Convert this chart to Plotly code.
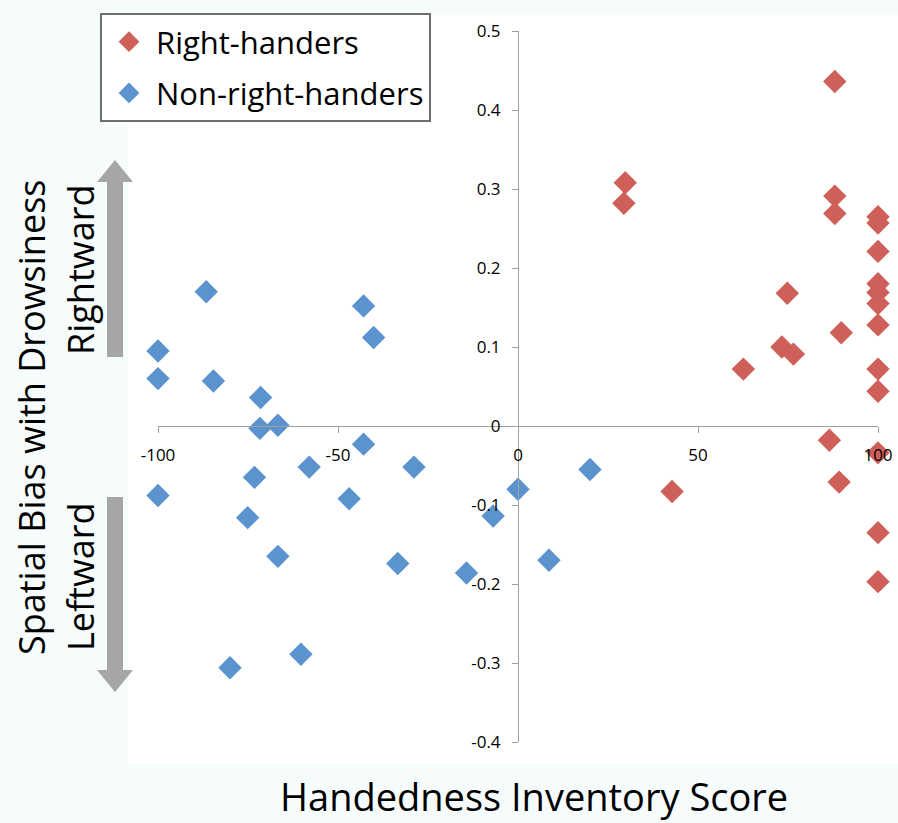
import plotly.graph_objects as go

# ---- data ----
right_x = [88, 29.8, 29.4, 88, 88, 100, 100, 100, 100, 100, 100, 100, 100, 100,
           74.8, 89.8, 73.3, 76.5, 62.6, 86.5, 100, 89.2, 42.8, 100, 100]
right_y = [0.436, 0.308, 0.282, 0.291, 0.269, 0.265, 0.257, 0.221, 0.180, 0.169, 0.155, 0.128, 0.072, 0.044,
           0.168, 0.118, 0.100, 0.091, 0.072, -0.018, -0.034, -0.071, -0.083, -0.135, -0.197]

left_x = [-100, -100, -86.6, -84.6, -71.5, -71.7, -66.7, -42.9, -40.1, -42.9,
          -58.0, -73.2, -100, -46.9, -28.9, -75.1, -66.7, -33.4, -14.3, -6.9,
          0, -80.0, -60.3, 8.6, 20]
left_y = [0.095, 0.060, 0.170, 0.057, 0.036, -0.003, 0.001, 0.152, 0.112, -0.023,
          -0.052, -0.065, -0.088, -0.092, -0.052, -0.116, -0.165, -0.174, -0.186, -0.114,
          -0.080, -0.306, -0.289, -0.170, -0.055]

x_ticks = [-100, -50, 0, 50, 100]
x_tick_text = ["-100", "-50", "0", "50", "100"]
y_ticks = [-0.4, -0.3, -0.2, -0.1, 0, 0.1, 0.2, 0.3, 0.4, 0.5]
y_tick_text = ["-0.4", "-0.3", "-0.2", "-0.1", "0", "0.1", "0.2", "0.3", "0.4", "0.5"]

RED = "#CF5F59"
BLUE = "#5B93CE"
FONT = "Open Sans"

W, H = 898, 823
ML, MR, MT, MB = 158, 20, 31, 81
PW, PH = W - ML - MR, H - MT - MB


def px(xp):
    return (xp - ML) / PW


def py(yp):
    return (H - MB - yp) / PH


fig = go.Figure()
fig.add_trace(go.Scatter(x=right_x, y=right_y, mode="markers", name="Right-handers",
                         legendgroup="a",
                         marker=dict(symbol="diamond", size=18, color=RED, line=dict(width=0)),
                         cliponaxis=False))
fig.add_trace(go.Scatter(x=left_x, y=left_y, mode="markers", name="Non-right-handers",
                         legendgroup="b",
                         marker=dict(symbol="diamond", size=18, color=BLUE, line=dict(width=0)),
                         cliponaxis=False))

y0_frac = (0 - y_ticks[0]) / (y_ticks[-1] - y_ticks[0])

fig.update_layout(
    width=W, height=H,
    margin=dict(l=ML, r=MR, t=MT, b=MB, autoexpand=False),
    paper_bgcolor="#F6FCFC",
    plot_bgcolor="rgba(0,0,0,0)",
    font=dict(family=FONT, color="black"),
    xaxis=dict(range=[-100, 100], anchor="free", position=y0_frac, automargin=False,
               tickvals=x_ticks, ticktext=x_tick_text, ticks="outside", ticklen=6,
               tickcolor="#A0A0A0", showline=True, linecolor="#A0A0A0", linewidth=1,
               showgrid=False, zeroline=False, ticklabelstandoff=8,
               tickfont=dict(size=17, family=FONT)),
    yaxis=dict(range=[-0.4, 0.5], anchor="free", position=0.5, automargin=False,
               tickvals=y_ticks, ticktext=y_tick_text, ticks="outside", ticklen=6,
               tickcolor="#A0A0A0", showline=True, linecolor="#A0A0A0", linewidth=1,
               showgrid=False, zeroline=False, ticklabelstandoff=8,
               tickfont=dict(size=17, family=FONT)),
    legend=dict(x=px(100), y=py(13), xanchor="left", yanchor="top",
                bgcolor="white", bordercolor="#6E6E6E", borderwidth=2,
                font=dict(size=31, family=FONT, color="black"),
                tracegroupgap=8, itemsizing="trace", itemwidth=44),
    showlegend=True,
)

# white chart area
fig.add_shape(type="rect", xref="paper", yref="paper",
              x0=px(128), x1=px(898), y0=py(765), y1=py(15),
              fillcolor="white", line=dict(width=0), layer="below")

# grey direction arrows (up and down)
def arrow_path(x_c, y_tail, y_tip):
    sw, hw, hh = 8, 18, 22
    d = -1 if y_tip < y_tail else 1
    yb = y_tip - d * hh
    pts = [(x_c - sw, y_tail), (x_c - sw, yb), (x_c - hw, yb), (x_c, y_tip),
           (x_c + hw, yb), (x_c + sw, yb), (x_c + sw, y_tail)]
    s = "M " + " L ".join(f"{px(a):.5f},{py(b):.5f}" for a, b in pts) + " Z"
    return s

for tail, tip in [(357, 160), (497, 692)]:
    fig.add_shape(type="path", xref="paper", yref="paper", path=arrow_path(115, tail, tip),
                  fillcolor="#A6A6A6", line=dict(width=0), layer="below")

fig.add_annotation(text="Handedness Inventory Score", xref="paper", yref="paper",
                   x=px(534), y=py(796), showarrow=False, xanchor="center", yanchor="middle",
                   font=dict(size=38, family=FONT, color="black"))
fig.add_annotation(text="Spatial Bias with Drowsiness", xref="paper", yref="paper",
                   x=px(31), y=py(418), showarrow=False, textangle=-90,
                   xanchor="center", yanchor="middle",
                   font=dict(size=36, family=FONT, color="black"))
fig.add_annotation(text="Rightward", xref="paper", yref="paper",
                   x=px(80), y=py(270), showarrow=False, textangle=-90,
                   xanchor="center", yanchor="middle",
                   font=dict(size=36, family=FONT, color="black"))
fig.add_annotation(text="Leftward", xref="paper", yref="paper",
                   x=px(80), y=py(577), showarrow=False, textangle=-90,
                   xanchor="center", yanchor="middle",
                   font=dict(size=36, family=FONT, color="black"))

fig.write_html("out.html", config={"displayModeBar": False},
               post_script="document.body.style.margin='0';document.body.style.overflow='hidden';")
